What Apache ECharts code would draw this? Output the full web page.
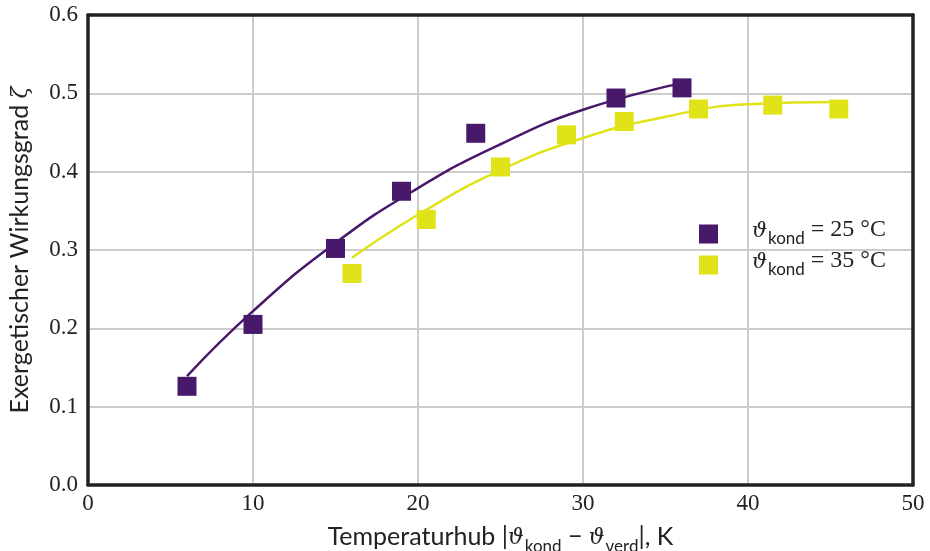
<!DOCTYPE html>
<html><head><meta charset="utf-8">
<script src="https://cdn.jsdelivr.net/npm/echarts@6/dist/echarts.min.js"></script>
<style>html,body{margin:0;padding:0;background:#fff}#c{width:930px;height:551px}</style>
</head><body><div id="c"></div>
<script>
const xTicks = [0, 10, 20, 30, 40, 50];
const yTicks = [0.0, 0.1, 0.2, 0.3, 0.4, 0.5, 0.6];
const purpleX = [6, 10, 15, 19, 23.5, 32, 36];
const purpleY = [0.126, 0.205, 0.302, 0.375, 0.449, 0.494, 0.507];
const yellowX = [16, 20.5, 25, 29, 32.5, 37, 41.5, 45.5];
const yellowY = [0.270, 0.339, 0.406, 0.447, 0.464, 0.480, 0.485, 0.480];
const purpleFitX = [6, 10, 15, 20, 25, 30, 36];
const purpleFitY = [0.139, 0.222, 0.309, 0.379, 0.435, 0.479, 0.513];
const yellowFitX = [16, 20, 25, 30, 35, 40, 45.5];
const yellowFitY = [0.290, 0.345, 0.402, 0.443, 0.470, 0.486, 0.489];
const seriesNames = ['ϑkond = 25 °C', 'ϑkond = 35 °C'];

const PURPLE = '#48186a', YELLOW = '#dfe318';
const zip = (a, b) => a.map((v, i) => [v, b[i]]);
const serif = 'Liberation Serif';
const sans = 'Lato';
const rich = {
  i: {fontFamily: 'DejaVu Serif', fontStyle: 'italic', fontSize: 22, lineHeight: 24, color: '#222', verticalAlign: 'bottom', padding: [0, 0, 6, 0]},
  s: {fontFamily: sans, fontSize: 17, lineHeight: 24, color: '#222', verticalAlign: 'bottom', padding: [0, 0, 0, 1]},
  r: {fontFamily: serif, fontSize: 24, lineHeight: 24, color: '#222', verticalAlign: 'bottom', padding: [0, 0, 6, 0]},
  a: {fontFamily: sans, fontSize: 25, lineHeight: 24, color: '#222', verticalAlign: 'bottom', padding: [0, 0, 6, 0]}
};
const richLeg = {
  i: {fontFamily: 'DejaVu Serif', fontStyle: 'italic', fontSize: 21, lineHeight: 22, color: '#222', verticalAlign: 'bottom', padding: [0, 0, 5, 0]},
  s: {fontFamily: sans, fontSize: 17, lineHeight: 22, color: '#222', verticalAlign: 'bottom', padding: [0, 0, 0, 1]},
  r: {fontFamily: serif, fontSize: 24, lineHeight: 22, color: '#222', verticalAlign: 'bottom', padding: [0, 0, 5, 0]}
};
const frameAxis = {axisLine: {show: true, onZero: false, lineStyle: {color: '#222', width: 3.5}}, axisTick: {show: false}, axisLabel: {show: false}, splitLine: {show: false}};
const chart = echarts.init(document.getElementById('c'));
chart.setOption({
  animation: false,
  backgroundColor: '#fff',
  grid: {left: 88, right: 17, top: 15, bottom: 66, outerBoundsMode: 'none', containLabel: false},
  legend: {
    left: 694, top: 213, orient: 'vertical', itemGap: 2, itemWidth: 19, itemHeight: 19,
    data: seriesNames,
    formatter: n => n === seriesNames[0] ? '{i|ϑ}{s|kond}{r| = 25 °C}' : '{i|ϑ}{s|kond}{r| = 35 °C}',
    textStyle: {rich: richLeg, padding: [4, 0, 0, 29]}
  },
  xAxis: [{
    type: 'value', min: 0, max: 50, interval: 10,
    axisLine: {show: true, onZero: false, lineStyle: {color: '#222', width: 3.5}}, axisTick: {show: false},
    splitLine: {lineStyle: {color: '#cccccc', width: 2}},
    axisLabel: {fontFamily: serif, fontSize: 23, color: '#222', margin: 7},
    name: '{a|Temperaturhub |}{i|ϑ}{s|kond}{a| − }{i|ϑ}{s|verd}{a||, K}',
    nameLocation: 'middle', nameGap: 46,
    nameTextStyle: {rich: rich}
  }, Object.assign({type: 'value', position: 'top', min: 0, max: 50}, frameAxis)],
  yAxis: [{
    type: 'value', min: 0, max: 0.6, interval: 0.1,
    axisLine: {show: true, onZero: false, lineStyle: {color: '#222', width: 3.5}}, axisTick: {show: false},
    splitLine: {lineStyle: {color: '#cccccc', width: 2}},
    axisLabel: {fontFamily: serif, fontSize: 23, color: '#222', margin: 10, formatter: v => v.toFixed(1)},
    name: '{a|Exergetischer Wirkungsgrad }{i|ζ}',
    nameLocation: 'middle', nameGap: 47,
    nameTextStyle: {rich: rich}
  }, Object.assign({type: 'value', position: 'right', min: 0, max: 0.6}, frameAxis)],
  series: [
    {type: 'line', data: zip(purpleFitX, purpleFitY), smooth: true, showSymbol: false, lineStyle: {color: PURPLE, width: 2.5}, z: 2, silent: true},
    {type: 'line', data: zip(yellowFitX, yellowFitY), smooth: true, showSymbol: false, lineStyle: {color: YELLOW, width: 2.5}, z: 2, silent: true},
    {name: seriesNames[0], type: 'scatter', data: zip(purpleX, purpleY), symbol: 'rect', symbolSize: 19, itemStyle: {color: PURPLE, opacity: 1}, z: 3},
    {name: seriesNames[1], type: 'scatter', data: zip(yellowX, yellowY), symbol: 'rect', symbolSize: 19, itemStyle: {color: YELLOW, opacity: 1}, z: 3}
  ]
});
</script></body></html>
